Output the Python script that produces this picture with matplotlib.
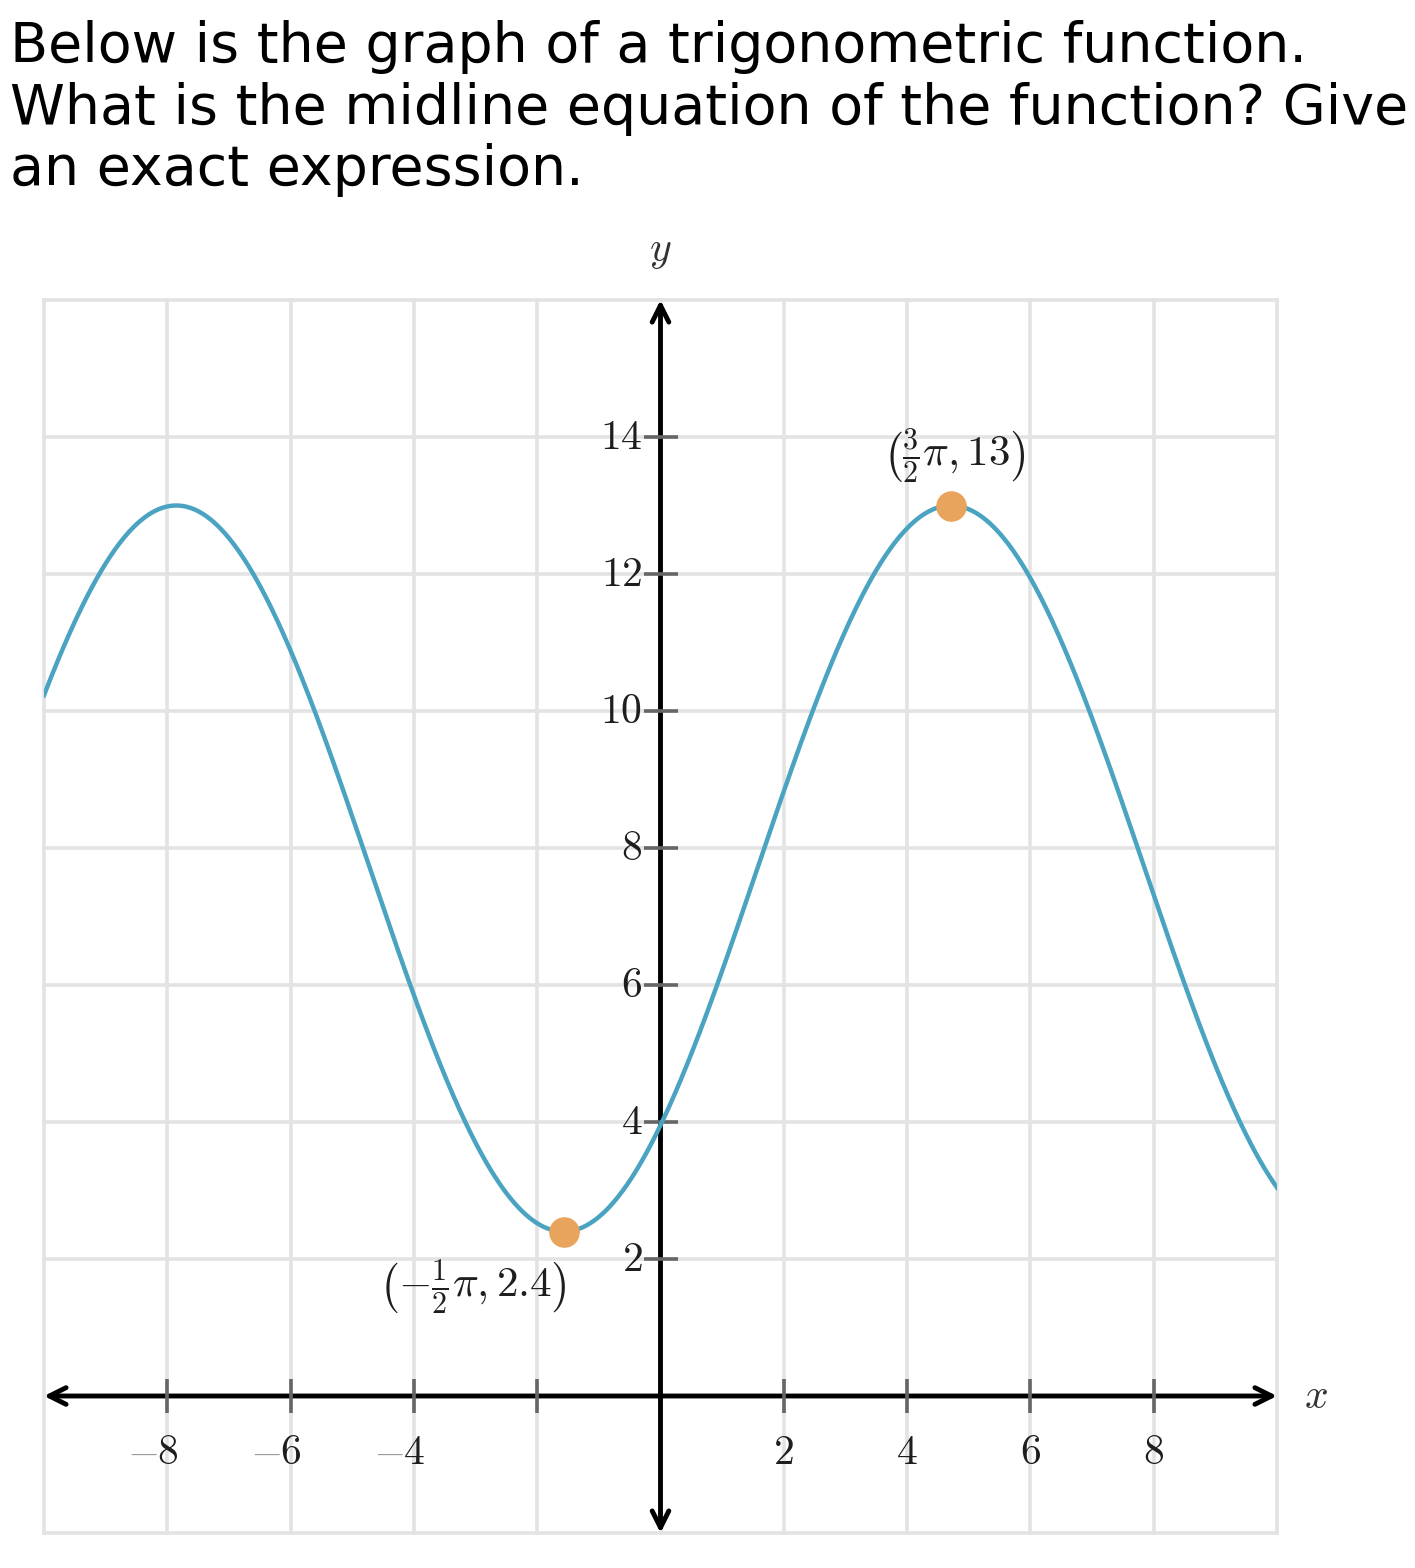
import numpy as np
import matplotlib
matplotlib.use("Agg")
import matplotlib.pyplot as plt

# ---- data ----
question = ("Below is the graph of a trigonometric function.\n"
            "What is the midline equation of the function? Give\n"
            "an exact expression.")
x_min, x_max = -10, 10
y_min, y_max = -2, 16
x_ticks = [-8, -6, -4, 2, 4, 6, 8]
x_tick_marks = [-8, -6, -4, -2, 2, 4, 6, 8]
y_ticks = [2, 4, 6, 8, 10, 12, 14]
max_point = (1.5 * np.pi, 13.0)
min_point = (-0.5 * np.pi, 2.4)
max_label = r"$\left(\frac{3}{2}\pi,13\right)$"
min_label = r"$\left(-\frac{1}{2}\pi,2.4\right)$"

# curve parameters derived from the labelled extrema
midline = (max_point[1] + min_point[1]) / 2
amplitude = (max_point[1] - min_point[1]) / 2
period = 2 * (max_point[0] - min_point[0])

curve_color = "#4aa3c1"
point_color = "#e8a35c"
grid_color = "#e3e3e3"
label_color = "#1e1e1e"

plt.rcParams["mathtext.fontset"] = "cm"

W, H = 1415, 1568
fig = plt.figure(figsize=(W / 100, H / 100), dpi=100)
ax = fig.add_axes([44 / W, (H - 1533) / H, 1233 / W, 1233 / H])
ax.set_xlim(x_min, x_max)
ax.set_ylim(y_min, y_max)
for s in ax.spines.values():
    s.set_visible(False)
ax.set_xticks([])
ax.set_yticks([])

for gx in np.arange(x_min, x_max + 1, 2):
    ax.axvline(gx, color=grid_color, lw=2.6, zorder=0, clip_on=False)
for gy in np.arange(y_min, y_max + 1, 2):
    ax.axhline(gy, color=grid_color, lw=2.6, zorder=0, clip_on=False)

# axes with arrows
arrow_kw = dict(arrowstyle="<->", lw=3.5, color="black",
                mutation_scale=30, shrinkA=0, shrinkB=0)
ax.annotate("", xy=(x_max, 0), xytext=(x_min, 0), arrowprops=arrow_kw,
            annotation_clip=False, zorder=3)
ax.annotate("", xy=(0, y_max), xytext=(0, y_min), arrowprops=arrow_kw,
            annotation_clip=False, zorder=3)

# tick marks
ax.plot(x_tick_marks, [0] * len(x_tick_marks), ls="none", marker="|",
        ms=24, mew=2.6, color="#666666", zorder=4)
ax.plot([0] * len(y_ticks), y_ticks, ls="none", marker="_",
        ms=24, mew=2.6, color="#666666", zorder=4)

# tick labels
for xv in x_ticks:
    if xv < 0:
        ax.annotate(rf"${abs(xv)}$", xy=(xv, 0), xytext=(0, -40),
                    textcoords="offset points", ha="center", va="center",
                    fontsize=30, color=label_color)
        ax.annotate(r"$-$", xy=(xv, 0), xytext=(-18, -40),
                    textcoords="offset points", ha="center", va="center",
                    fontsize=30, color="#9a9a9a")
    else:
        ax.annotate(rf"${xv}$", xy=(xv, 0), xytext=(0, -40),
                    textcoords="offset points", ha="center", va="center",
                    fontsize=30, color=label_color)
for yv in y_ticks:
    ax.annotate(rf"${yv}$", xy=(0, yv), xytext=(-13, 0),
                textcoords="offset points", ha="right", va="center",
                fontsize=30, color=label_color)

ax.annotate(r"$x$", xy=(x_max, 0), xytext=(28, 0), textcoords="offset points",
            ha="center", va="center", fontsize=30, color="#333333",
            annotation_clip=False)
ax.annotate(r"$y$", xy=(0, y_max), xytext=(0, 36), textcoords="offset points",
            ha="center", va="center", fontsize=30, color="#333333",
            annotation_clip=False)

# curve
xs = np.linspace(x_min, x_max, 800)
ys = midline + amplitude * np.cos(2 * np.pi / period * (xs - max_point[0]))
ax.plot(xs, ys, color=curve_color, lw=3.2, zorder=5)

# points
ax.plot([max_point[0], min_point[0]], [max_point[1], min_point[1]],
        ls="none", marker="o", ms=21, color=point_color, zorder=6)
ax.annotate(max_label, xy=max_point, xytext=(2, 36), textcoords="offset points",
            ha="center", va="center", fontsize=31, color=label_color)
ax.annotate(min_label, xy=min_point, xytext=(-66, -40), textcoords="offset points",
            ha="center", va="center", fontsize=31, color=label_color)

fig.text(10 / W, 1 - 20 / H, question, ha="left", va="top",
         fontsize=40, family="DejaVu Sans", linespacing=1.18)

fig.savefig("out.png", dpi=100)
